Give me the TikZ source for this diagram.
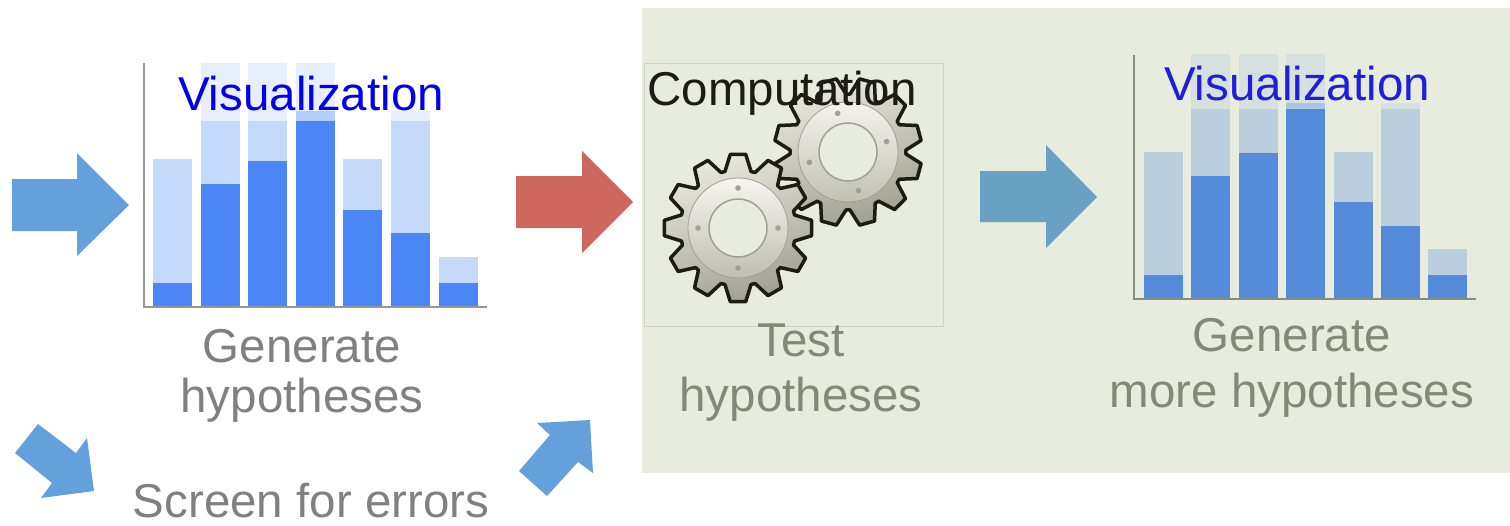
\documentclass[tikz,border=0pt]{standalone}
\usepackage{fontspec}
\setmainfont{Liberation Sans}
\usepackage{xcolor}
\usetikzlibrary{positioning}
\definecolor{panel}{RGB}{232,236,222}
\definecolor{boxline}{RGB}{208,212,198}
\definecolor{flowblue}{RGB}{100,160,220}
\definecolor{flowred}{RGB}{205,102,92}
\definecolor{flowteal}{RGB}{104,161,196}
\definecolor{bardark}{RGB}{74,134,245}
\definecolor{barlight}{RGB}{197,217,250}
\definecolor{bardarkB}{RGB}{84,139,218}
\definecolor{barlightB}{RGB}{187,206,222}
\definecolor{axisgray}{RGB}{150,150,150}
\definecolor{axisgrayB}{RGB}{135,140,125}
\definecolor{capgray}{RGB}{128,128,128}
\definecolor{capgrayB}{RGB}{132,136,120}
\definecolor{visblue}{RGB}{0,0,238}
\definecolor{visblueB}{RGB}{30,30,220}
\definecolor{cogline}{RGB}{28,28,20}
\definecolor{coglight}{RGB}{232,232,222}
\definecolor{cogdark}{RGB}{160,160,146}
\definecolor{hublight}{RGB}{246,246,240}
\definecolor{hubdark}{RGB}{190,190,178}

\tikzset{
  caption/.style={font=\fontsize{47.5}{52}\selectfont, align=center, anchor=base, inner sep=0pt},
  vislabel/.style={font=\fontsize{47.5}{52}\selectfont, anchor=base, inner sep=0pt,
    fill opacity=.6, text opacity=1},
  blockarrow/.style={draw=none},
  pics/cog/.style={code={
    % toothed rim
    \filldraw[line width=3.5pt, line join=round, draw=cogline,
      top color=coglight, bottom color=cogdark, shading angle=20]
      (-13:58) \foreach \a in {0,30,...,330}{ -- (\a-13:58) -- (\a-6:74) -- (\a+6:74) -- (\a+13:58) } -- cycle;
    % raised hub and hole
    \draw[cogdark, line width=.8pt, top color=hublight, bottom color=hubdark] (0,0) circle (50pt);
    \draw[cogdark, line width=1.5pt, fill=panel] (0,0) circle (29pt);
    \foreach \a in {0,90,180,270} \fill[cogdark] (\a:40) circle (2.8pt);
  }}
}

\begin{document}
\begin{tikzpicture}[x=1pt, y=-1pt]
  \useasboundingbox (0,0) rectangle (1510,525);
  % shaded area for the second half
  \fill[panel] (642,8) rectangle (1510,473);

  % first chart
  \foreach \i/\d/\l in {0/283/159, 1/184/63, 2/161/63, 3/111/63, 4/210/159, 5/233/111, 6/283/257} {
    \fill[barlight] ({153+47.6*\i},\l) rectangle ({192+47.6*\i},306);
    \fill[bardark] ({153+47.6*\i},\d) rectangle ({192+47.6*\i},306);
  }
  \draw[axisgray, line width=2pt] (144,63) -- (144,307) -- (487,307);
  \node[vislabel, text=visblue, fill=white, text height=47pt, text depth=11pt] (vis1) at (311,110) {Visualization};
  \node[caption, text=capgray, font=\fontsize{47.5}{50}\selectfont] (gen1) at (302,412) {Generate\\hypotheses};

  % computation box with two cogs
  \draw[boxline, fill=panel] (644,63) rectangle (943,326);
  \pic[rotate=15] at (848,152) {cog};
  \pic at (738,228) {cog};
  \node[font=\fontsize{47.5}{52}\selectfont, anchor=base, inner sep=0pt, text=cogline] (comp) at (782,105) {Computation};
  \node[caption, text=capgrayB, font=\fontsize{47.5}{55}\selectfont] (test) at (801,411) {Test\\hypotheses};

  % second chart
  \foreach \i/\d/\l in {0/275/152, 1/176/54, 2/153/54, 3/103/54, 4/202/152, 5/226/103, 6/275/249} {
    \fill[barlightB] ({1144+47.4*\i},\l) rectangle ({1183+47.4*\i},298);
    \fill[bardarkB] ({1144+47.4*\i},\d) rectangle ({1183+47.4*\i},298);
  }
  \draw[axisgrayB, line width=2pt] (1134,55) -- (1134,299) -- (1476,299);
  \node[vislabel, text=visblueB, fill=panel, text height=46pt, text depth=9pt] (vis2) at (1297,100) {Visualization};
  \node[caption, text=capgrayB, font=\fontsize{47.5}{56}\selectfont] (gen2) at (1292,407) {Generate\\more hypotheses};

  \node[caption, text=capgray] (screen) at (311,517) {Screen for errors};

  % block arrows
  \fill[flowblue, blockarrow] (12,179) -- (77,179) -- (77,153) -- (129,205) -- (77,256) -- (77,231) -- (12,231) -- cycle;
  \fill[flowred, blockarrow] (516,176) -- (582,176) -- (582,151) -- (633,202) -- (582,253) -- (582,228) -- (516,228) -- cycle;
  \fill[flowteal, blockarrow] (980,171) -- (1046,171) -- (1046,145) -- (1097,197) -- (1046,248) -- (1046,222) -- (980,222) -- cycle;
  \fill[flowblue, blockarrow] (15,453) -- (38,424) -- (76,453) -- (87,438) -- (94,491) -- (41,498) -- (52,483) -- cycle;
  \fill[flowblue, blockarrow] (519,471) -- (550,435) -- (537,423) -- (590,420) -- (593,473) -- (578,462) -- (547,496) -- cycle;
\end{tikzpicture}
\end{document}
